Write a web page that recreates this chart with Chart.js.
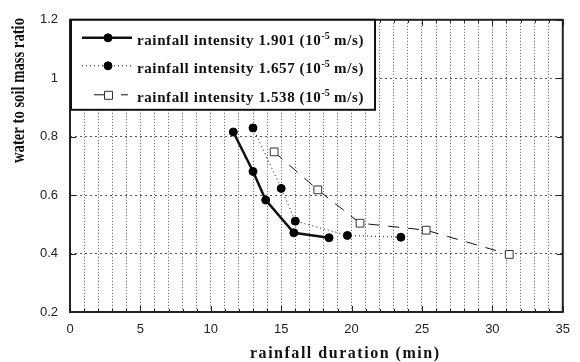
<!DOCTYPE html>
<html>
<head>
<meta charset="utf-8">
<script src="https://cdn.jsdelivr.net/npm/chart.js@4.4.1/dist/chart.umd.min.js"></script>
<style>
  html, body { margin: 0; padding: 0; background: #fff; }
  #wrap { width: 580px; height: 362px; }
</style>
</head>
<body>
<div id="wrap"><canvas id="c" width="580" height="362"></canvas></div>
<script>
// ---- data ----
const xTitle = 'rainfall duration (min)';
const yTitle = 'water to soil mass ratio';
const intensities = ['1.901', '1.657', '1.538'];
const duration1 = [11.6, 13.0, 13.9, 15.9, 18.4];
const ratio1    = [0.816, 0.681, 0.583, 0.471, 0.454];
const duration2 = [13.0, 15.0, 16.0, 19.7, 23.5];
const ratio2    = [0.830, 0.623, 0.511, 0.462, 0.456];
const duration3 = [14.5, 17.6, 20.6, 25.3, 31.2];
const ratio3    = [0.748, 0.618, 0.504, 0.480, 0.397];
const xTickLabels = [0, 5, 10, 15, 20, 25, 30, 35];
const yTickLabels = [0.2, 0.4, 0.6, 0.8, 1, 1.2];

const pts = (xs, ys) => xs.map((x, i) => ({ x: x, y: ys[i] }));

const styles = [
  { borderWidth: 2.5, borderDash: [], pointStyle: 'circle', pointRadius: 4, bg: '#000' },
  { borderWidth: 1, borderDash: [1, 3], pointStyle: 'circle', pointRadius: 4, bg: '#000' },
  { borderWidth: 1, borderDash: [11, 9], pointStyle: 'rect', pointRadius: 5.5, bg: '#fff' }
];
const seriesData = [pts(duration1, ratio1), pts(duration2, ratio2), pts(duration3, ratio3)];

const datasets = seriesData.map((d, i) => ({
  label: 'rainfall intensity ' + intensities[i] + ' (10-5 m/s)',
  data: d,
  showLine: true,
  borderColor: '#111',
  borderWidth: styles[i].borderWidth,
  borderDash: styles[i].borderDash,
  pointStyle: styles[i].pointStyle,
  pointRadius: styles[i].pointRadius,
  pointBackgroundColor: styles[i].bg,
  pointBorderColor: i === 2 ? '#333' : '#000',
  pointBorderWidth: 1,
  tension: 0
}));

function spacedText(ctx, text, x, y, spacing) {
  ctx.letterSpacing = spacing + 'px';
  ctx.fillText(text, x, y);
  const w = ctx.measureText(text).width;
  ctx.letterSpacing = '0px';
  return w;
}

// frame, inward ticks and axis titles
const framePlugin = {
  id: 'frame',
  afterDatasetsDraw(chart) {
    const ctx = chart.ctx, a = chart.chartArea;
    const xs = chart.scales.x, ys = chart.scales.y;
    ctx.save();
    ctx.strokeStyle = '#222';
    ctx.lineWidth = 1;
    ctx.setLineDash([]);
    for (let v = xs.min; v <= xs.max; v += 1) {
      const px = Math.round(xs.getPixelForValue(v)) + 0.5;
      const len = (v % 5 === 0) ? 6 : 3;
      ctx.beginPath();
      ctx.moveTo(px, a.bottom); ctx.lineTo(px, a.bottom - len);
      ctx.moveTo(px, a.top); ctx.lineTo(px, a.top + len);
      ctx.stroke();
    }
    yTickLabels.forEach(v => {
      const py = Math.round(ys.getPixelForValue(v)) + 0.5;
      ctx.beginPath();
      ctx.moveTo(a.left, py); ctx.lineTo(a.left + 6, py);
      ctx.moveTo(a.right, py); ctx.lineTo(a.right - 6, py);
      ctx.stroke();
    });
    ctx.lineWidth = 2;
    ctx.strokeStyle = '#222';
    ctx.strokeRect(a.left, a.top, a.right - a.left, a.bottom - a.top);

    // x axis title (wide bold serif)
    ctx.fillStyle = '#111';
    ctx.font = 'bold 16px "Liberation Serif"';
    ctx.textBaseline = 'alphabetic';
    ctx.textAlign = 'left';
    const w0 = ctx.measureText(xTitle).width;
    const sp = (189 - w0) / (xTitle.length - 1);
    spacedText(ctx, xTitle, 250, 358, sp);

    // y axis title (condensed bold serif)
    ctx.save();
    ctx.font = 'bold 19px "Liberation Serif"';
    const wy = ctx.measureText(yTitle).width;
    ctx.translate(24, 163);
    ctx.rotate(-Math.PI / 2);
    ctx.scale(145 / wy, 1);
    ctx.fillText(yTitle, 0, 0);
    ctx.restore();
    ctx.restore();
  }
};

// legend box drawn inside chart area
const legendPlugin = {
  id: 'boxLegend',
  afterDatasetsDraw(chart) {
    const ctx = chart.ctx, a = chart.chartArea;
    const bx = a.left + 1, by = a.top, bw = 304, bh = 90;
    ctx.save();
    ctx.fillStyle = '#fff';
    ctx.fillRect(bx, by, bw, bh);
    ctx.lineWidth = 2;
    ctx.strokeStyle = '#111';
    ctx.setLineDash([]);
    ctx.strokeRect(bx, by, bw, bh);
    const rows = [18, 46, 75];
    const big = 'bold 15px "Liberation Serif"', small = 'bold 10px "Liberation Serif"';
    // letter spacing chosen so the first row spans ~227px
    ctx.font = big;
    const refW = ctx.measureText('rainfall intensity ' + intensities[0] + ' (10 m/s)').width;
    ctx.font = small;
    const supW = ctx.measureText('-5').width;
    const nChars = ('rainfall intensity ' + intensities[0] + ' (10 m/s)').length;
    const sp = Math.max(0, (227 - refW - supW) / nChars);
    chart.data.datasets.forEach((ds, i) => {
      const y = by + rows[i];
      ctx.strokeStyle = '#111';
      ctx.lineWidth = ds.borderWidth;
      ctx.setLineDash(ds.borderDash);
      ctx.beginPath();
      if (i === 2) {
        ctx.setLineDash([]);
        ctx.moveTo(bx + 23, y); ctx.lineTo(bx + 33, y);
        ctx.moveTo(bx + 50, y); ctx.lineTo(bx + 57, y);
      } else {
        ctx.moveTo(bx + 11, y); ctx.lineTo(bx + 61, y);
      }
      ctx.stroke();
      ctx.setLineDash([]);
      ctx.fillStyle = ds.pointBackgroundColor;
      ctx.strokeStyle = ds.pointBorderColor;
      ctx.lineWidth = 1;
      ctx.beginPath();
      if (ds.pointStyle === 'rect') {
        ctx.rect(bx + 37.5 - 4, y - 3.5, 8, 8);
      } else {
        ctx.arc(bx + 37, y, 4, 0, Math.PI * 2);
      }
      ctx.fill(); ctx.stroke();
      // text with superscript
      ctx.fillStyle = '#111';
      ctx.textBaseline = 'alphabetic';
      ctx.textAlign = 'left';
      let tx = bx + 66;
      const ty = y + 7;
      const p1 = 'rainfall intensity ' + intensities[i] + ' (10';
      ctx.font = big; tx += spacedText(ctx, p1, tx, ty, sp);
      ctx.font = small; tx += spacedText(ctx, '-5', tx, ty - 6, 0);
      ctx.font = big; spacedText(ctx, ' m/s)', tx, ty, sp);
    });
    ctx.restore();
  }
};

new Chart(document.getElementById('c'), {
  type: 'scatter',
  data: { datasets: datasets },
  options: {
    responsive: false,
    animation: false,
    devicePixelRatio: 1,
    layout: { padding: { top: 14, right: 9, left: 0, bottom: 0 } },
    plugins: { legend: { display: false }, tooltip: { enabled: false } },
    scales: {
      x: {
        type: 'linear', min: 0, max: 35,
        afterFit(s) { s.height = 50; },
        afterBuildTicks(s) {
          const t = [];
          for (let v = 0; v <= 35; v++) t.push({ value: v });
          s.ticks = t;
        },
        border: { display: false, dash: [1, 2] },
        grid: { color: '#555', lineWidth: 1, drawTicks: false },
        ticks: {
          padding: 10, color: '#222', autoSkip: false, maxRotation: 0,
          font: { family: '"Liberation Sans"', size: 13 },
          callback: v => xTickLabels.includes(v) ? String(v) : ''
        },
        title: { display: false, text: xTitle }
      },
      y: {
        type: 'linear', min: 0.2, max: 1.2,
        afterFit(s) { s.width = 70; },
        afterBuildTicks(s) { s.ticks = yTickLabels.map(v => ({ value: v })); },
        border: { display: false, dash: [2, 3] },
        grid: { color: '#555', lineWidth: 1, drawTicks: false },
        ticks: {
          padding: 12, color: '#222',
          font: { family: '"Liberation Sans"', size: 13 },
          callback: v => String(v)
        },
        title: { display: false, text: yTitle }
      }
    }
  },
  plugins: [framePlugin, legendPlugin]
});
</script>
</body>
</html>
